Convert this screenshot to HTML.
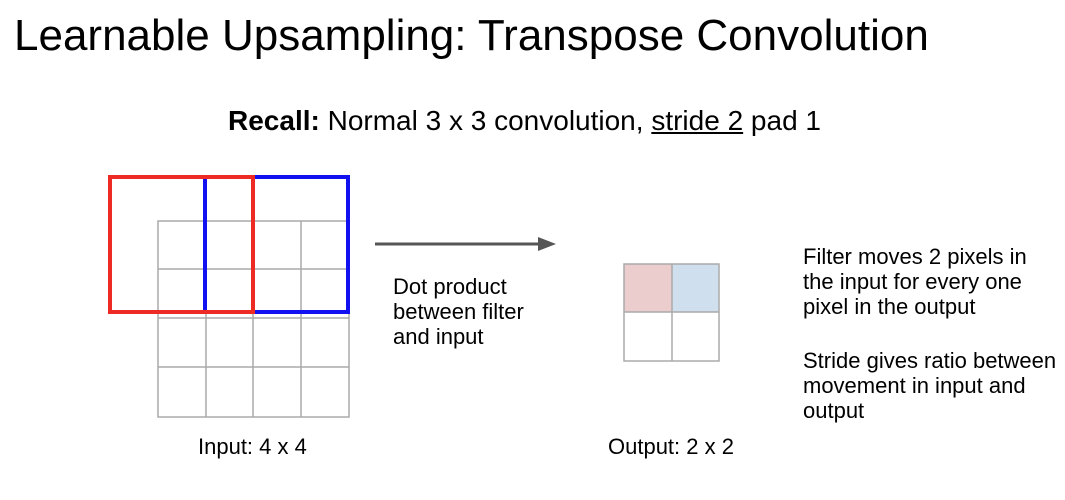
<!DOCTYPE html>
<html><head><meta charset="utf-8"><style>
body{margin:0;width:1065px;height:500px;background:#fff;overflow:hidden;font-family:"Liberation Sans",Arial,sans-serif;color:#000;position:relative}
.t{position:absolute;white-space:nowrap}
</style></head><body>
<div class="t" style="left:14px;top:11px;font-size:44px">Learnable Upsampling: Transpose Convolution</div>
<div class="t" style="left:228px;top:105px;font-size:28px"><b>Recall:</b> Normal 3 x 3 convolution, <u>stride 2</u> pad 1</div>
<svg width="1065" height="500" style="position:absolute;left:0;top:0">
<g stroke="#aaa" stroke-width="1.5" fill="none">
<rect x="158" y="221" width="191" height="196"/>
<line x1="206" y1="221" x2="206" y2="417"/><line x1="253" y1="221" x2="253" y2="417"/><line x1="301" y1="221" x2="301" y2="417"/>
<line x1="158" y1="269" x2="349" y2="269"/><line x1="158" y1="318" x2="349" y2="318"/><line x1="158" y1="367" x2="349" y2="367"/>
</g>
<rect x="205" y="177" width="143" height="135" fill="none" stroke="#1010f0" stroke-width="4"/>
<rect x="110" y="177" width="143" height="135" fill="none" stroke="#ee2a24" stroke-width="4"/>
<g>
<line x1="375" y1="244" x2="540" y2="244" stroke="#555" stroke-width="3"/>
<polygon points="538,237 556,244 538,251" fill="#555"/>
</g>
<g>
<rect x="624" y="264" width="48" height="48" fill="#eacdcc"/>
<rect x="672" y="264" width="47" height="48" fill="#cfdfee"/>
<g stroke="#aaa" stroke-width="1.5" fill="none">
<rect x="624" y="264" width="95" height="97"/>
<line x1="672" y1="264" x2="672" y2="361"/><line x1="624" y1="312" x2="719" y2="312"/>
</g></g>
</svg>
<div class="t" style="left:393px;top:274px;font-size:22px;line-height:25px">Dot product<br>between filter<br>and input</div>
<div class="t" style="left:198px;top:434px;font-size:22px">Input: 4 x 4</div>
<div class="t" style="left:608px;top:434px;font-size:22px">Output: 2 x 2</div>
<div class="t" style="left:803px;top:244px;font-size:22px;line-height:25px">Filter moves 2 pixels in<br>the input for every one<br>pixel in the output</div>
<div class="t" style="left:803px;top:348px;font-size:22px;line-height:25px">Stride gives ratio between<br>movement in input and<br>output</div>
</body></html>
